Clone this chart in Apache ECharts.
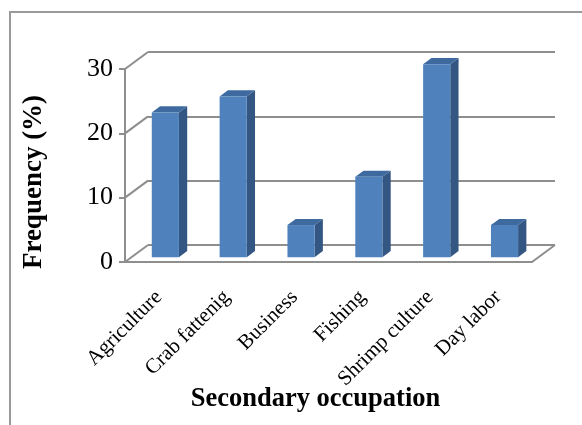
<!DOCTYPE html>
<html>
<head>
<meta charset="utf-8">
<script src="https://cdn.jsdelivr.net/npm/echarts@6/dist/echarts.min.js"></script>
<style>
  html, body { margin: 0; padding: 0; background: #ffffff; }
  #chart { width: 582px; height: 425px; }
</style>
</head>
<body>
<div id="chart"></div>
<script>
// Secondary occupation of respondents (frequency, %)
const categories = ['Agriculture', 'Crab fattenig', 'Business', 'Fishing', 'Shrimp culture', 'Day labor'];
const frequency = [22.5, 25, 5, 12.5, 30, 5];
const yTicks = [0, 10, 20, 30];

// Oblique depth of the pseudo-3D box (back wall offset from the front plane)
const DEPTH_X = 23;
const DEPTH_Y = -17;
// Column placement inside the depth (fractions of the full depth)
const BAR_FRONT = 0.28;
const BAR_DEPTH = 0.36;
const BAR_WIDTH = 0.4;

const GRID_LEFT = 125, GRID_TOP = 69, GRID_W = 407, GRID_H = 193;
const GREY = '#8e8e8e';
const SERIF = '"Liberation Serif", "Times New Roman", serif';

const chart = echarts.init(document.getElementById('chart'), null, { renderer: 'canvas' });

function wallLines(params, api) {
  const cs = params.coordSys;
  const y = api.coord([0, api.value(0)])[1];
  const x = cs.x;
  return {
    type: 'line',
    shape: { x1: x, y1: y, x2: x + DEPTH_X, y2: y + DEPTH_Y },
    style: { stroke: GREY, lineWidth: 2 }
  };
}

function floorEdge(params, api) {
  const cs = params.coordSys;
  const y = api.coord([0, 0])[1];
  const x = cs.x + cs.width;
  return {
    type: 'line',
    shape: { x1: x, y1: y, x2: x + DEPTH_X, y2: y + DEPTH_Y },
    style: { stroke: GREY, lineWidth: 2 }
  };
}

function column(params, api) {
  const idx = api.value(0);
  const val = api.value(1);
  const base = api.coord([idx, 0]);
  const top = api.coord([idx, val]);
  const band = api.size([1, 0])[0];
  const w = band * BAR_WIDTH;
  const ox = DEPTH_X * BAR_FRONT, oy = DEPTH_Y * BAR_FRONT;
  const bx = DEPTH_X * BAR_DEPTH, by = DEPTH_Y * BAR_DEPTH;
  const L = base[0] - w / 2 + ox;
  const R = L + w;
  const T = top[1] + oy;
  const B = base[1] + oy;
  return {
    type: 'group',
    children: [
      {
        type: 'polygon',
        shape: { points: [[R, T], [R + bx, T + by], [R + bx, B + by], [R, B]] },
        style: { fill: '#335682' }
      },
      {
        type: 'polygon',
        shape: { points: [[L, T], [R, T], [R + bx, T + by], [L + bx, T + by]] },
        style: { fill: '#3e6aa0' }
      },
      {
        type: 'rect',
        shape: { x: L, y: T, width: w, height: B - T },
        style: { fill: '#4f81bd' }
      }
    ]
  };
}

chart.setOption({
  animation: false,
  backgroundColor: '#ffffff',
  graphic: [
    {
      type: 'rect',
      shape: { x: 10, y: 12, width: 620, height: 460 },
      style: { fill: 'none', stroke: '#9a9a9a', lineWidth: 2 },
      z: -10
    },
    {
      type: 'text',
      x: 34, y: 182,
      rotation: Math.PI / 2,
      style: {
        text: 'Frequency (%)',
        font: 'bold 27px ' + SERIF,
        fill: '#000000',
        align: 'center',
        verticalAlign: 'middle'
      }
    }
  ],
  grid: [
    { left: GRID_LEFT, top: GRID_TOP, width: GRID_W, height: GRID_H },
    { left: GRID_LEFT + DEPTH_X, top: GRID_TOP + DEPTH_Y, width: GRID_W, height: GRID_H }
  ],
  xAxis: [
    {
      type: 'category',
      gridIndex: 0,
      data: categories,
      axisLine: { show: true, lineStyle: { color: GREY, width: 2 } },
      axisTick: { show: false },
      axisLabel: {
        interval: 0,
        rotate: 45,
        margin: 32,
        fontFamily: SERIF,
        fontSize: 21,
        color: '#000000'
      },
      name: 'Secondary occupation',
      nameLocation: 'middle',
      nameGap: 124,
      nameMoveOverlap: false,
      nameTextStyle: {
        fontFamily: SERIF,
        fontWeight: 'bold',
        fontSize: 26.5,
        color: '#000000',
        padding: [0, 26, 0, 0]
      }
    },
    {
      type: 'category',
      gridIndex: 1,
      data: categories,
      show: false
    }
  ],
  yAxis: [
    {
      type: 'value',
      gridIndex: 0,
      min: 0,
      max: 30,
      interval: 10,
      axisLine: { show: true, lineStyle: { color: GREY, width: 2 } },
      axisTick: { show: true, length: 6, lineStyle: { color: GREY, width: 2 } },
      splitLine: { show: false },
      axisLabel: {
        margin: 12,
        fontFamily: SERIF,
        fontSize: 26,
        color: '#000000',
        formatter: v => (yTicks.indexOf(v) >= 0 ? String(v) : '')
      }
    },
    {
      type: 'value',
      gridIndex: 1,
      min: 0,
      max: 30,
      interval: 10,
      axisLine: { show: false },
      axisTick: { show: false },
      axisLabel: { show: false },
      splitLine: { show: true, lineStyle: { color: GREY, width: 2 } }
    }
  ],
  series: [
    {
      type: 'custom',
      xAxisIndex: 0,
      yAxisIndex: 0,
      data: yTicks.map(v => [v]),
      renderItem: wallLines,
      silent: true,
      z: 1
    },
    {
      type: 'custom',
      xAxisIndex: 0,
      yAxisIndex: 0,
      data: [[0]],
      renderItem: floorEdge,
      silent: true,
      z: 1
    },
    {
      type: 'custom',
      xAxisIndex: 0,
      yAxisIndex: 0,
      data: frequency.map((v, i) => [i, v]),
      renderItem: column,
      encode: { x: 0, y: 1 },
      z: 5
    }
  ]
});
</script>
</body>
</html>
